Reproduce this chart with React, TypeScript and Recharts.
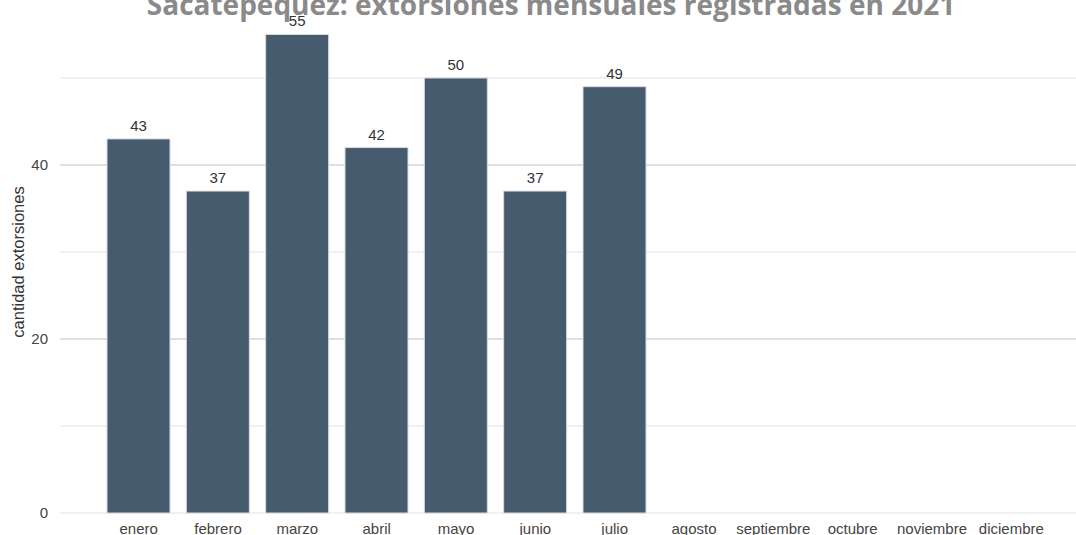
import { Bar, BarChart, CartesianGrid, Label, LabelList, XAxis, YAxis } from "recharts";

// Sacatepéquez: monthly extortions 2021
const months = [
  "enero",
  "febrero",
  "marzo",
  "abril",
  "mayo",
  "junio",
  "julio",
  "agosto",
  "septiembre",
  "octubre",
  "noviembre",
  "diciembre",
];
const extorsiones = [43, 37, 55, 42, 50, 37, 49, 0, 0, 0, 0, 0];
const yTicks = [0, 20, 40];
const minorGrid = [0, 10, 30, 50];
const majorGrid = [20, 40];

const data = months.map((m, i) => ({ mes: m, valor: extorsiones[i] }));

const font = "Liberation Sans, Arial, sans-serif";
const tickStyle = { fill: "#444", fontSize: 15, fontFamily: font };

export default function App() {
  return (
    <div
      style={{
        position: "absolute",
        left: 0,
        top: 0,
        width: 1076,
        height: 535,
        overflow: "hidden",
        background: "#fff",
      }}
    >
      <svg width={1076} height={40} style={{ position: "absolute", left: 0, top: 0 }}>
        <text
          x={551}
          y={15}
          textAnchor="middle"
          fill="#8a8a8a"
          fontSize={28}
          fontWeight={700}
          fontFamily="Open Sans, sans-serif"
        >
          Sacatepéquez: extorsiones mensuales registradas en 2021
        </text>
      </svg>
      <BarChart
        width={1076}
        height={535}
        data={data}
        margin={{ top: 11, right: 0, bottom: 0, left: 0 }}
        barSize={63}
      >
        <CartesianGrid vertical={false} stroke="#e2e2e2" horizontalValues={minorGrid} />
        <CartesianGrid vertical={false} stroke="#bfbfbf" horizontalValues={majorGrid} />
        <XAxis
          dataKey="mes"
          interval={0}
          axisLine={false}
          tickLine={false}
          tickMargin={4}
          height={22}
          padding={{ left: 39, right: 25 }}
          tick={tickStyle}
        />
        <YAxis
          width={60}
          domain={[0, 57.7]}
          ticks={yTicks}
          axisLine={false}
          tickLine={false}
          tickMargin={6}
          tick={tickStyle}
        >
          <Label
            value="cantidad extorsiones"
            angle={-90}
            position="insideLeft"
            offset={18}
            style={{ textAnchor: "middle", fill: "#333", fontSize: 16.5, fontFamily: font }}
          />
        </YAxis>
        <Bar
          dataKey="valor"
          fill="#465b6e"
          stroke="#d5dbe1"
          strokeWidth={1}
          isAnimationActive={false}
        >
          <LabelList
            dataKey="valor"
            position="top"
            offset={8}
            formatter={(v: any) => (v > 0 ? v : "")}
            style={{ fill: "#333", fontSize: 15, fontFamily: font }}
          />
        </Bar>
      </BarChart>
    </div>
  );
}
